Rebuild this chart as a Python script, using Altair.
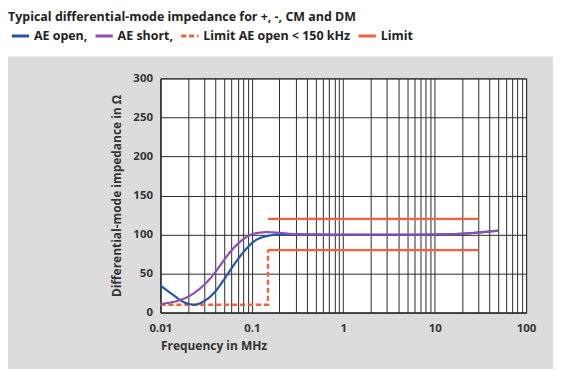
import altair as alt
import pandas as pd

# ---- data ----
f_open = [0.01, 0.0141, 0.0175, 0.0206, 0.0233, 0.030, 0.0385, 0.0494, 0.0635, 0.0817, 0.105,
          0.1466, 0.205, 0.3, 1, 3, 10, 20, 30, 50]
z_open = [34.5, 21.7, 14, 11, 10, 14.5, 25, 42, 61, 78, 91,
          98, 100, 100, 99.5, 99.5, 100, 101, 102.5, 105]

f_short = [0.01, 0.0153, 0.0206, 0.0275, 0.0353, 0.0454, 0.0583, 0.075, 0.105, 0.147, 0.205,
           0.3, 1, 10, 20, 30, 50]
z_short = [11, 15, 21, 31.5, 44, 61, 78, 91, 101, 103, 102,
           100.5, 100, 100, 101, 102.5, 105]

f_limit_open = [0.01, 0.15, 0.15]
z_limit_open = [10, 10, 80]

f_limit_hi = [0.15, 30]
z_limit_hi = [120, 120]
f_limit_lo = [0.15, 30]
z_limit_lo = [80, 80]

series_names = ["AE open,", "AE short,", "Limit AE open < 150 kHz", "Limit"]
series_colors = ["#2456a8", "#8d4fb3", "#f2603f", "#f2603f"]
series_dash = [[1, 0], [1, 0], [5, 3], [1, 0]]

x_decades = [0.01, 0.1, 1, 10, 100]
y_ticks = [0, 50, 100, 150, 200, 250, 300]

title_text = "Typical differential-mode impedance for +, -, CM and DM"
x_title = "Frequency in MHz"
y_title = "Differential-mode impedance in Ω"

# ---- build tables ----
def seg(fs, zs, name, part):
    return pd.DataFrame({"f": fs, "z": zs, "series": name, "part": part})

curves = pd.concat([
    seg(f_open, z_open, series_names[0], "a"),
    seg(f_short, z_short, series_names[1], "b"),
])
limits = pd.concat([
    seg(f_limit_open, z_limit_open, series_names[2], "c"),
    seg(f_limit_hi, z_limit_hi, series_names[3], "d"),
    seg(f_limit_lo, z_limit_lo, series_names[3], "e"),
])

minor_vals = []
for d in x_decades[:-1]:
    for m in range(1, 10):
        minor_vals.append(round(m * d, 6))
minor_vals.append(100)

FONT = "Open Sans"
W, H = 367, 235

x_enc = alt.X("f:Q",
              scale=alt.Scale(type="log", domain=[0.01, 100], nice=False),
              axis=alt.Axis(values=minor_vals, title=x_title,
                            labelExpr="indexof([0.01,0.1,1,10,100], datum.value) >= 0 ? format(datum.value, '~g') : ''",
                            labelFlush=False, labelOverlap=False, ticks=False, labelPadding=10,
                            titleAnchor="start", titleAlign="left", titlePadding=7))
y_enc = alt.Y("z:Q", scale=alt.Scale(domain=[0, 300], nice=False),
              axis=alt.Axis(values=y_ticks, title=y_title, ticks=False, labelPadding=8,
                            titlePadding=9))
color_enc = alt.Color("series:N", scale=alt.Scale(domain=series_names, range=series_colors),
                      legend=alt.Legend(title=None, orient="none", legendX=-151, legendY=-53,
                                        direction="horizontal", symbolType="stroke",
                                        symbolSize=300, symbolStrokeWidth=3, columnPadding=1,
                                        labelFont=FONT, labelFontSize=12.5, labelFontWeight="bold",
                                        labelColor="#222", symbolOffset=0, labelOffset=3))
dash_enc = alt.StrokeDash("series:N", scale=alt.Scale(domain=series_names, range=series_dash),
                          legend=alt.Legend(title=None))

curve_layer = alt.Chart(curves).mark_line(interpolate="monotone", strokeWidth=2.2).encode(
    x=x_enc, y=y_enc, color=color_enc, strokeDash=dash_enc, detail="part:N", order=alt.Order("f:Q"))
limit_layer = alt.Chart(limits).mark_line(strokeWidth=2.4).encode(
    x=x_enc, y=y_enc, color=color_enc, strokeDash=dash_enc, detail="part:N")

one = pd.DataFrame({"a": [0]})
top_band = alt.Chart(one).mark_rect(color="white", clip=False).encode(
    x=alt.value(-160), x2=alt.value(W + 40), y=alt.value(-80), y2=alt.value(-22))
title_layer = alt.Chart(one).mark_text(text=title_text, align="left", baseline="middle",
                                       font=FONT, fontSize=12.5, fontWeight="bold",
                                       color="#222", clip=False).encode(
    x=alt.value(-153), y=alt.value(-62))

chart = alt.layer(top_band, title_layer, limit_layer, curve_layer).properties(
    width=W, height=H,
    background="#dcdcdc",
    padding={"left": 153, "top": 70, "right": 27, "bottom": 56},
    autosize=alt.AutoSizeParams(type="none"),
).configure_view(fill="white", stroke="#333", strokeWidth=1).configure_axis(
    grid=True, gridColor="#2b2b2b", gridWidth=1, gridOpacity=1,
    domainColor="#2b2b2b", domainWidth=1,
    labelFont=FONT, labelFontSize=11.5, labelFontWeight="bold", labelColor="#333",
    titleFont=FONT, titleFontSize=12, titleFontWeight="bold", titleColor="#333",
)

chart.save("out.html", embed_options={"renderer": "svg", "actions": False})
